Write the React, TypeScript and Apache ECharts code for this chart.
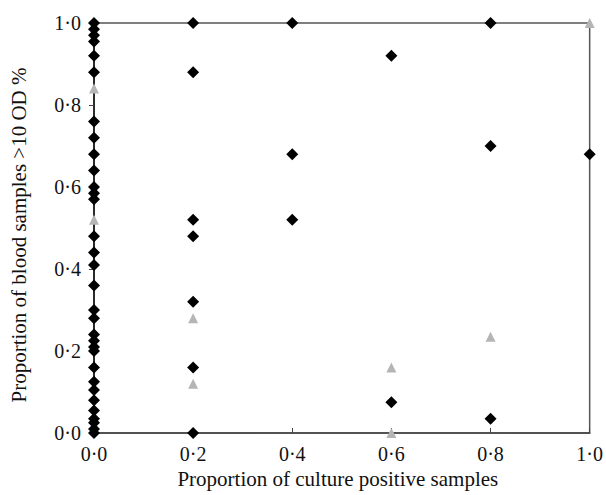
import React, { useEffect, useRef } from "react";
import * as echarts from "echarts";

// Proportion of culture positive samples (x) for each group of points
const cultureLevels = [0, 0.2, 0.4, 0.6, 0.8, 1.0];

// Proportion of blood samples >10 OD % — black diamonds, one array per x level
const blackAt0_0 = [
  1.0, 0.985, 0.97, 0.955, 0.92, 0.88, 0.76, 0.72, 0.68, 0.64, 0.6, 0.585, 0.57,
  0.48, 0.44, 0.41, 0.36, 0.3, 0.28, 0.24, 0.225, 0.21, 0.2, 0.16, 0.125, 0.105,
  0.08, 0.055, 0.035, 0.025, 0.01, 0.0,
];
const blackAt0_2 = [1.0, 0.88, 0.52, 0.48, 0.32, 0.16, 0.0];
const blackAt0_4 = [1.0, 0.68, 0.52];
const blackAt0_6 = [0.92, 0.075];
const blackAt0_8 = [1.0, 0.7, 0.035];
const blackAt1_0 = [0.68];

// Grey triangles, one array per x level
const greyAt0_0 = [0.84, 0.52];
const greyAt0_2 = [0.28, 0.12];
const greyAt0_4: number[] = [];
const greyAt0_6 = [0.16, 0.0];
const greyAt0_8 = [0.235];
const greyAt1_0 = [1.0];

const xTickLabels = ["0·0", "0·2", "0·4", "0·6", "0·8", "1·0"];
const yTickLabels = ["0·0", "0·2", "0·4", "0·6", "0·8", "1·0"];

const blackGroups = [blackAt0_0, blackAt0_2, blackAt0_4, blackAt0_6, blackAt0_8, blackAt1_0];
const greyGroups = [greyAt0_0, greyAt0_2, greyAt0_4, greyAt0_6, greyAt0_8, greyAt1_0];

const toPairs = (groups: number[][]) =>
  groups.flatMap((ys, i) => ys.map((y) => [cultureLevels[i], y]));

const fmt = (labels: string[]) => (v: number) => {
  const idx = Math.round(v / 0.2);
  return labels[idx] ?? "";
};

export default function App() {
  const ref = useRef<HTMLDivElement>(null);
  useEffect(() => {
    if (!ref.current) return;
    const chart = echarts.init(ref.current, undefined, { renderer: "svg" });
    const font = "'Liberation Serif', 'Times New Roman', serif";
    chart.setOption({
      animation: false,
      backgroundColor: "#ffffff",
      grid: {
        left: 79,
        right: 10,
        top: 23,
        bottom: 62,
        show: true,
        borderColor: "#555",
        borderWidth: 1.5,
        backgroundColor: "transparent",
      },
      xAxis: {
        type: "value",
        min: 0,
        max: 1,
        interval: 0.2,
        name: "Proportion of culture positive samples",
        nameLocation: "middle",
        nameGap: 34,
        nameTextStyle: { fontFamily: font, fontSize: 21, color: "#111", padding: [0, 8, 0, 0] },
        axisLine: { show: true, lineStyle: { color: "#444", width: 1.5 } },
        axisTick: { show: true, inside: true, length: 5, lineStyle: { color: "#444" } },
        axisLabel: {
          fontFamily: font,
          fontSize: 20,
          color: "#111",
          margin: 11,
          formatter: fmt(xTickLabels),
        },
        splitLine: { show: false },
      },
      yAxis: {
        type: "value",
        min: 0,
        max: 1,
        interval: 0.2,
        name: "Proportion of blood samples >10 OD %",
        nameLocation: "middle",
        nameGap: 51,
        nameTextStyle: {
          fontFamily: font,
          fontSize: 21,
          color: "#111",
          padding: [0, 14, 14, 0],
        },
        axisLine: { show: true, lineStyle: { color: "#111", width: 1.5 } },
        axisTick: { show: true, inside: false, length: 5, lineStyle: { color: "#444" } },
        axisLabel: {
          fontFamily: font,
          fontSize: 20,
          color: "#111",
          margin: 13,
          formatter: fmt(yTickLabels),
        },
        splitLine: { show: false },
      },
      series: [
        {
          type: "scatter",
          name: "grey",
          symbol: "triangle",
          symbolSize: 10,
          itemStyle: { color: "#b5b5b5", opacity: 1 },
          data: toPairs(greyGroups),
          z: 2,
        },
        {
          type: "scatter",
          name: "black",
          symbol: "diamond",
          symbolSize: 12,
          itemStyle: { color: "#000", opacity: 1 },
          data: toPairs(blackGroups),
          z: 3,
        },
      ],
    });
    return () => chart.dispose();
  }, []);
  return (
    <div
      ref={ref}
      style={{ position: "absolute", left: 0, top: 0, width: 606, height: 495 }}
    />
  );
}
